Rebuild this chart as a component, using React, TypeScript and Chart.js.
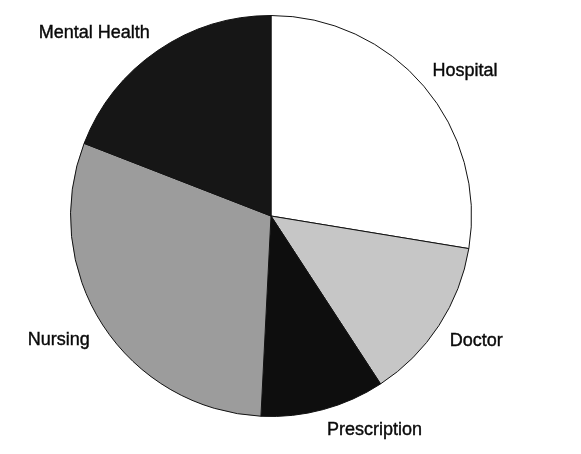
import React, { useEffect, useRef } from "react";
import { Chart, registerables } from "chart.js";

Chart.register(...registerables);

const categories = ["Hospital", "Doctor", "Prescription", "Nursing", "Mental Health"];
const shares = [27.6, 13.2, 10.0, 30.1, 19.1];
const sliceColors = ["#ffffff", "#c6c6c6", "#0e0e0e", "#9c9c9c", "#161616"];

// label placement tweaks relative to slice mid-angle: [angle offset (deg), radius factor]
const labelTweaks: [number, number][] = [
  [3.5, 1.209],
  [-1.7, 1.199],
  [-10.7, 1.184],
  [2.6, 1.226],
  [-9.6, 1.269],
];

const outsideLabels = {
  id: "outsideLabels",
  afterDatasetsDraw(chart: any) {
    const ctx = chart.ctx;
    const meta = chart.getDatasetMeta(0);
    ctx.save();
    ctx.font = '18px "Liberation Sans", Arial, sans-serif';
    ctx.fillStyle = "#0a0a0a";
    ctx.strokeStyle = "#0a0a0a";
    ctx.lineWidth = 0.4;
    ctx.textAlign = "center";
    ctx.textBaseline = "middle";
    meta.data.forEach((arc: any, i: number) => {
      const p = arc.getProps(["x", "y", "startAngle", "endAngle", "outerRadius"], true);
      const [da, rf] = labelTweaks[i];
      const mid = (p.startAngle + p.endAngle) / 2 + (da * Math.PI) / 180;
      const r = p.outerRadius * rf;
      const tx = p.x + Math.cos(mid) * r;
      const ty = p.y + Math.sin(mid) * r;
      ctx.fillText(chart.data.labels[i], tx, ty);
      ctx.strokeText(chart.data.labels[i], tx, ty);
    });
    ctx.restore();
  },
};

export default function App() {
  const ref = useRef<HTMLCanvasElement>(null);
  useEffect(() => {
    if (!ref.current) return;
    const chart = new Chart(ref.current, {
      type: "pie",
      data: {
        labels: categories,
        datasets: [
          {
            data: shares,
            backgroundColor: sliceColors,
            borderColor: "#111",
            borderWidth: 1,
            hoverOffset: 0,
          },
        ],
      },
      options: {
        responsive: false,
        animation: false,
        layout: { padding: { left: 70, right: 109, top: 15, bottom: 37 } },
        plugins: { legend: { display: false }, tooltip: { enabled: false } },
      },
      plugins: [outsideLabels],
    });
    return () => chart.destroy();
  }, []);
  return (
    <div style={{ position: "fixed", left: 0, top: 0, width: 581, height: 454, background: "#fff" }}>
      <canvas ref={ref} width={581} height={454} />
    </div>
  );
}
